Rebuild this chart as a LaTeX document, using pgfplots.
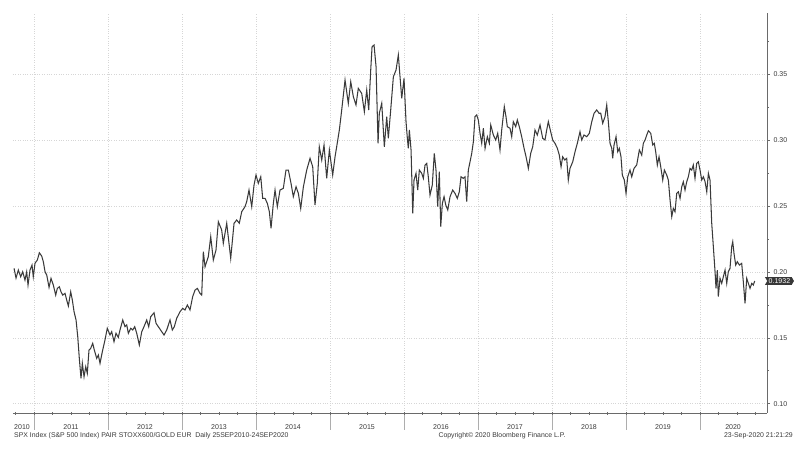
\documentclass[border=0pt]{standalone}
\usepackage{fontspec}
\setmainfont{Liberation Sans}
\usepackage{pgfplots}
\pgfplotsset{compat=1.18}
\usetikzlibrary{shapes.symbols}
\definecolor{lineg}{HTML}{3A3A3A}
\definecolor{gridg}{HTML}{D6D6D6}
\definecolor{axg}{HTML}{6A6A6A}
\definecolor{txtg}{HTML}{3A3A3A}
\pgfplotstableread{
x y
2010.730 0.2028
2010.757 0.1954
2010.788 0.2015
2010.820 0.1964
2010.847 0.2002
2010.878 0.1939
2010.901 0.2002
2010.919 0.1901
2010.946 0.2015
2010.973 0.2053
2010.990 0.1964
2011.014 0.2068
2011.045 0.2091
2011.072 0.2146
2011.104 0.2121
2011.126 0.2078
2011.149 0.2002
2011.172 0.1977
2011.203 0.1884
2011.230 0.1952
2011.261 0.1901
2011.293 0.1825
2011.315 0.1876
2011.342 0.1888
2011.365 0.1850
2011.388 0.1825
2011.419 0.1838
2011.442 0.1787
2011.464 0.1742
2011.496 0.1850
2011.518 0.1787
2011.541 0.1699
2011.568 0.1636
2011.591 0.1509
2011.612 0.1345
2011.635 0.1193
2011.653 0.1307
2011.676 0.1205
2011.699 0.1281
2011.720 0.1231
2011.743 0.1408
2011.766 0.1421
2011.793 0.1459
2011.815 0.1408
2011.847 0.1345
2011.869 0.1370
2011.892 0.1307
2011.923 0.1395
2011.959 0.1484
2011.990 0.1573
2012.027 0.1522
2012.050 0.1547
2012.081 0.1471
2012.108 0.1535
2012.139 0.1504
2012.162 0.1560
2012.199 0.1636
2012.230 0.1585
2012.253 0.1598
2012.275 0.1535
2012.307 0.1573
2012.334 0.1560
2012.361 0.1585
2012.388 0.1535
2012.423 0.1446
2012.456 0.1547
2012.486 0.1585
2012.523 0.1636
2012.550 0.1585
2012.577 0.1661
2012.622 0.1691
2012.649 0.1611
2012.680 0.1585
2012.726 0.1547
2012.757 0.1522
2012.793 0.1560
2012.838 0.1636
2012.869 0.1560
2012.896 0.1585
2012.928 0.1649
2012.973 0.1699
2013.009 0.1724
2013.040 0.1712
2013.072 0.1750
2013.108 0.1712
2013.144 0.1813
2013.176 0.1863
2013.207 0.1876
2013.243 0.1838
2013.266 0.1825
2013.288 0.2154
2013.311 0.2040
2013.355 0.2116
2013.388 0.2268
2013.423 0.2091
2013.459 0.2167
2013.491 0.2382
2013.536 0.2319
2013.558 0.2218
2013.604 0.2370
2013.658 0.2104
2013.703 0.2370
2013.739 0.2395
2013.774 0.2370
2013.807 0.2458
2013.851 0.2496
2013.874 0.2534
2013.905 0.2622
2013.942 0.2496
2013.973 0.2660
2014.000 0.2736
2014.031 0.2673
2014.064 0.2723
2014.090 0.2559
2014.122 0.2559
2014.153 0.2521
2014.180 0.2458
2014.203 0.2332
2014.234 0.2521
2014.257 0.2622
2014.288 0.2496
2014.324 0.2622
2014.369 0.2635
2014.405 0.2774
2014.437 0.2774
2014.473 0.2673
2014.504 0.2572
2014.541 0.2647
2014.572 0.2597
2014.604 0.2483
2014.640 0.2647
2014.685 0.2774
2014.730 0.2863
2014.766 0.2799
2014.797 0.2509
2014.828 0.2673
2014.855 0.2951
2014.888 0.2850
2014.919 0.2964
2014.955 0.2711
2014.991 0.2926
2015.036 0.2736
2015.068 0.2875
2015.090 0.2951
2015.126 0.3078
2015.158 0.3230
2015.203 0.3457
2015.247 0.3280
2015.280 0.3444
2015.315 0.3331
2015.351 0.3268
2015.382 0.3394
2015.428 0.3356
2015.464 0.3217
2015.496 0.3381
2015.523 0.3230
2015.550 0.3533
2015.568 0.3710
2015.595 0.3723
2015.622 0.3558
2015.649 0.2977
2015.666 0.3205
2015.699 0.3280
2015.734 0.2951
2015.766 0.3179
2015.788 0.3015
2015.820 0.3230
2015.856 0.3482
2015.892 0.3533
2015.923 0.3647
2015.946 0.3482
2015.969 0.3318
2016.000 0.3470
2016.027 0.3141
2016.045 0.3015
2016.058 0.2939
2016.072 0.3078
2016.095 0.2926
2016.118 0.2446
2016.135 0.2698
2016.162 0.2749
2016.185 0.2622
2016.207 0.2774
2016.239 0.2749
2016.261 0.2711
2016.284 0.2812
2016.307 0.2825
2016.328 0.2723
2016.351 0.2584
2016.382 0.2660
2016.409 0.2901
2016.432 0.2774
2016.455 0.2496
2016.477 0.2761
2016.496 0.2344
2016.518 0.2521
2016.541 0.2572
2016.564 0.2509
2016.591 0.2471
2016.622 0.2572
2016.658 0.2622
2016.689 0.2597
2016.720 0.2559
2016.747 0.2609
2016.770 0.2723
2016.801 0.2711
2016.824 0.2723
2016.847 0.2534
2016.869 0.2774
2016.892 0.2837
2016.915 0.2901
2016.937 0.2989
2016.959 0.3179
2016.982 0.3192
2017.004 0.3154
2017.027 0.3053
2017.050 0.2977
2017.072 0.3091
2017.095 0.2939
2017.126 0.3027
2017.153 0.2977
2017.172 0.3116
2017.207 0.3040
2017.239 0.3002
2017.266 0.3053
2017.297 0.2926
2017.320 0.3078
2017.355 0.3255
2017.378 0.3179
2017.396 0.3103
2017.432 0.3091
2017.455 0.3027
2017.477 0.3141
2017.509 0.3103
2017.531 0.3154
2017.558 0.3103
2017.590 0.3027
2017.622 0.2939
2017.649 0.2875
2017.680 0.2787
2017.712 0.2901
2017.739 0.2951
2017.770 0.3078
2017.801 0.3040
2017.838 0.3116
2017.874 0.3015
2017.905 0.3002
2017.928 0.3078
2017.950 0.3141
2017.982 0.3065
2018.009 0.3002
2018.040 0.2977
2018.072 0.2939
2018.098 0.2888
2018.122 0.2799
2018.144 0.2875
2018.172 0.2850
2018.198 0.2863
2018.220 0.2698
2018.243 0.2787
2018.280 0.2837
2018.311 0.2913
2018.342 0.2977
2018.378 0.3065
2018.401 0.3002
2018.432 0.3040
2018.469 0.3027
2018.504 0.3053
2018.537 0.3141
2018.568 0.3205
2018.604 0.3230
2018.635 0.3205
2018.658 0.3205
2018.685 0.3129
2018.716 0.3179
2018.739 0.3268
2018.761 0.3141
2018.784 0.2977
2018.807 0.2939
2018.820 0.2863
2018.838 0.2964
2018.865 0.3027
2018.888 0.2913
2018.909 0.2939
2018.932 0.2875
2018.950 0.2736
2018.977 0.2698
2019.000 0.2597
2019.023 0.2723
2019.054 0.2774
2019.077 0.2723
2019.108 0.2787
2019.144 0.2812
2019.180 0.2926
2019.212 0.2888
2019.234 0.2977
2019.257 0.3002
2019.280 0.3040
2019.302 0.3072
2019.334 0.3053
2019.361 0.2964
2019.382 0.2977
2019.401 0.2913
2019.423 0.2812
2019.446 0.2875
2019.469 0.2799
2019.496 0.2698
2019.518 0.2774
2019.550 0.2736
2019.572 0.2698
2019.595 0.2546
2019.618 0.2420
2019.639 0.2483
2019.662 0.2458
2019.685 0.2597
2019.707 0.2609
2019.730 0.2559
2019.753 0.2647
2019.774 0.2685
2019.797 0.2622
2019.820 0.2685
2019.842 0.2723
2019.865 0.2787
2019.888 0.2774
2019.909 0.2812
2019.932 0.2711
2019.955 0.2825
2019.977 0.2837
2020.000 0.2774
2020.023 0.2698
2020.045 0.2723
2020.068 0.2685
2020.091 0.2609
2020.113 0.2749
2020.135 0.2698
2020.158 0.2370
2020.180 0.2192
2020.203 0.2002
2020.216 0.1876
2020.234 0.2015
2020.247 0.1813
2020.270 0.1952
2020.293 0.1914
2020.315 0.1964
2020.338 0.2015
2020.361 0.1914
2020.382 0.2002
2020.405 0.2028
2020.428 0.2192
2020.442 0.2230
2020.459 0.2142
2020.482 0.2053
2020.504 0.2078
2020.532 0.2053
2020.563 0.2066
2020.585 0.1926
2020.608 0.1762
2020.631 0.1952
2020.653 0.1914
2020.676 0.1876
2020.699 0.1914
2020.720 0.1901
2020.739 0.1932
}\ratio
\begin{document}
\begin{tikzpicture}[x=1pt,y=1pt]
\path[use as bounding box] (-13,-37) rectangle (790,413);
\begin{axis}[
  at={(0,0)}, anchor=south west,
  scale only axis, width=754pt, height=400pt,
  xmin=2010.716, xmax=2020.905, ymin=0.093, ymax=0.3966,
  axis x line*=bottom, axis y line*=right,
  axis line style={axg, line width=0.8pt},
  clip=false,
  xtick={2010.838,2011.5,2012.5,2013.5,2014.5,2015.5,2016.5,2017.5,2018.5,2019.5,2020.446},
  xticklabels={2010,2011,2012,2013,2014,2015,2016,2017,2018,2019,2020},
  xtick style={draw=none},
  extra x ticks={2011,2012,2013,2014,2015,2016,2017,2018,2019,2020},
  extra x tick labels={},
  extra x tick style={grid=major},
  ytick={0.1,0.15,0.2,0.25,0.3,0.35},
  minor ytick={0.125,0.175,0.225,0.275,0.325,0.375},
  ymajorgrids,
  major grid style={dotted, gridg, line width=0.6pt},
  tick align=outside, major tick length=3pt, minor tick length=2pt,
  ytick style={axg, line width=0.8pt},
  /pgf/number format/assume math mode=true,
  yticklabel={\pgfmathprintnumber[fixed,fixed zerofill,precision=2]{\tick}},
  yticklabel style={font=\fontsize{7}{8}\selectfont, text=txtg},
  xticklabel style={font=\fontsize{7}{8}\selectfont, text=txtg, yshift=-5.5pt},
]
\pgfplotsinvokeforeach{2011,2012,2013,2014,2015,2016,2017,2018,2019,2020}{
  \draw[axg!55, line width=0.7pt] (axis cs:#1,0.093) -- ++(0pt,-17pt);
}
\pgfplotsinvokeforeach{2010.75,2011,...,2020.75}{
  \draw[axg, line width=0.6pt] (axis cs:#1,0.093) ++(0pt,-1.5pt) -- ++(0pt,3pt);
}
\addplot[lineg, line width=1.05pt] table[x=x,y=y] {\ratio};
\node[signal, signal from=west, signal pointer angle=120, fill=black!78, text=white,
      inner sep=1.5pt, font=\fontsize{7}{8}\selectfont, anchor=west]
      at (axis cs:2020.905,0.1932) {0.1932};
\end{axis}
\begin{scope}[font=\fontsize{6.9}{8}\selectfont, text=txtg]
\node[anchor=west, inner sep=0pt] at (1,-23) {SPX Index (S\&P 500 Index) PAIR STOXX600/GOLD EUR\ \ Daily 25SEP2010-24SEP2020};
\node[inner sep=0pt] at (489,-23) {Copyright© 2020 Bloomberg Finance L.P.};
\node[anchor=east, inner sep=0pt] at (780,-23) {23-Sep-2020 21:21:29};
\end{scope}
\end{tikzpicture}
\end{document}
